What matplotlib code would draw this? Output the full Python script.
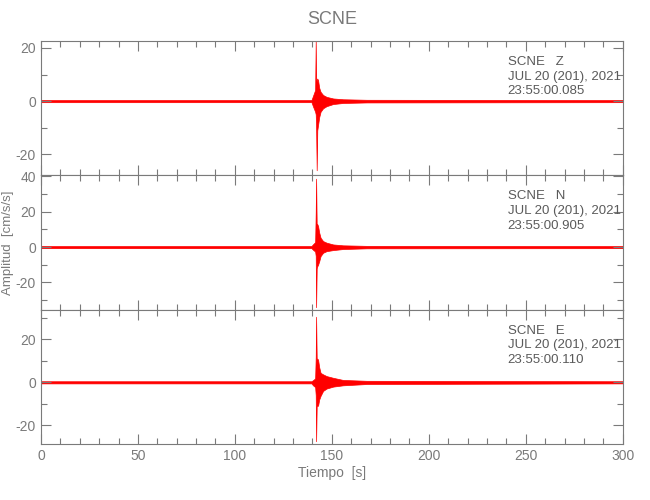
import matplotlib
matplotlib.use("Agg")
import matplotlib.pyplot as plt
from matplotlib.ticker import MultipleLocator

plt.rcParams["font.family"] = ["Liberation Sans", "DejaVu Sans"]
plt.rcParams["axes.unicode_minus"] = False

# --- DATA ---
station = "SCNE"
components = ["Z", "N", "E"]
start_times = ["23:55:00.085", "23:55:00.905", "23:55:00.110"]
date_label = "JUL 20 (201), 2021"

# envelope sample times [s]
env_t = [0, 139.5, 140.3, 141.4, 141.7, 141.9, 142.2, 142.5, 142.9,
         143.5, 144.2, 145.5, 147.3, 150.7, 155.8, 168, 300]

# upper / lower envelope of each trace [cm/s/s]
z_upper = [0.4, 0.4, 2.0, 4.2, 23.0, 6.0, 7.9, 8.5, 7.9,
           5.0, 3.5, 2.3, 1.6, 1.0, 0.7, 0.5, 0.4]
z_lower = [-0.4, -0.4, -2.0, -4.0, -5.0, -10.0, -26.0, -11.0, -9.0,
           -6.0, -4.0, -2.7, -1.9, -1.1, -0.7, -0.5, -0.4]

n_upper = [0.6, 0.6, 1.6, 2.8, 20.0, 38.7, 12.0, 13.0, 12.0,
           8.2, 5.3, 3.4, 2.5, 1.5, 1.0, 0.7, 0.6]
n_lower = [-0.6, -0.6, -1.5, -2.5, -5.0, -34.0, -12.0, -10.9, -10.0,
           -8.0, -5.1, -3.2, -2.3, -1.7, -1.1, -0.7, -0.6]

e_upper = [0.5, 0.5, 1.0, 1.8, 12.0, 30.5, 11.0, 11.0, 10.6,
           7.0, 4.4, 3.7, 2.9, 2.1, 1.1, 0.7, 0.5]
e_lower = [-0.5, -0.5, -1.4, -2.2, -6.0, -27.4, -11.0, -10.9, -10.9,
           -8.0, -6.3, -4.0, -2.9, -2.0, -1.4, -0.8, -0.5]

y_limits = [(-27.9, 22.6), (-35.4, 40.6), (-28.7, 33.8)]
x_range = (0, 300)

gray = "#7a7a7a"
text_gray = "#5a5a5a"

fig, axes = plt.subplots(3, 1, figsize=(6.5, 5), dpi=100, sharex=True)
fig.subplots_adjust(left=0.063, right=0.958, bottom=0.112, top=0.918, hspace=0)

envelopes = [(z_upper, z_lower), (n_upper, n_lower), (e_upper, e_lower)]

for ax, comp, t0, (up, lo), ylim in zip(axes, components, start_times,
                                        envelopes, y_limits):
    ax.fill_between(env_t, lo, up, color="#ff0000", lw=0.5, ec="#ff0000")
    ax.set_xlim(*x_range)
    ax.set_ylim(*ylim)

    ax.xaxis.set_major_locator(MultipleLocator(50))
    ax.xaxis.set_minor_locator(MultipleLocator(10))
    ax.yaxis.set_major_locator(MultipleLocator(20))
    ax.yaxis.set_minor_locator(MultipleLocator(10))
    ax.tick_params(which="both", direction="in", top=True, right=True,
                   color=gray, labelcolor=gray, labelsize=10, width=0.8)
    ax.tick_params(which="major", length=7)
    ax.tick_params(which="minor", length=4)
    for sp in ax.spines.values():
        sp.set_color(gray)
        sp.set_linewidth(0.8)

    ax.text(0.802, 0.888, f"{station}   {comp}\n{date_label}\n{t0}",
            transform=ax.transAxes, ha="left", va="top", fontsize=9.5,
            color=text_gray, linespacing=1.3)

axes[0].set_title(station, color=gray, fontsize=13, pad=12)
axes[-1].set_xlabel("Tiempo  [s]", color=gray, fontsize=10, labelpad=2)
fig.text(0.013, 0.515, "Amplitud  [cm/s/s]", rotation=90, ha="center",
         va="center", color=gray, fontsize=9.5)

fig.savefig("out.png", dpi=100)
